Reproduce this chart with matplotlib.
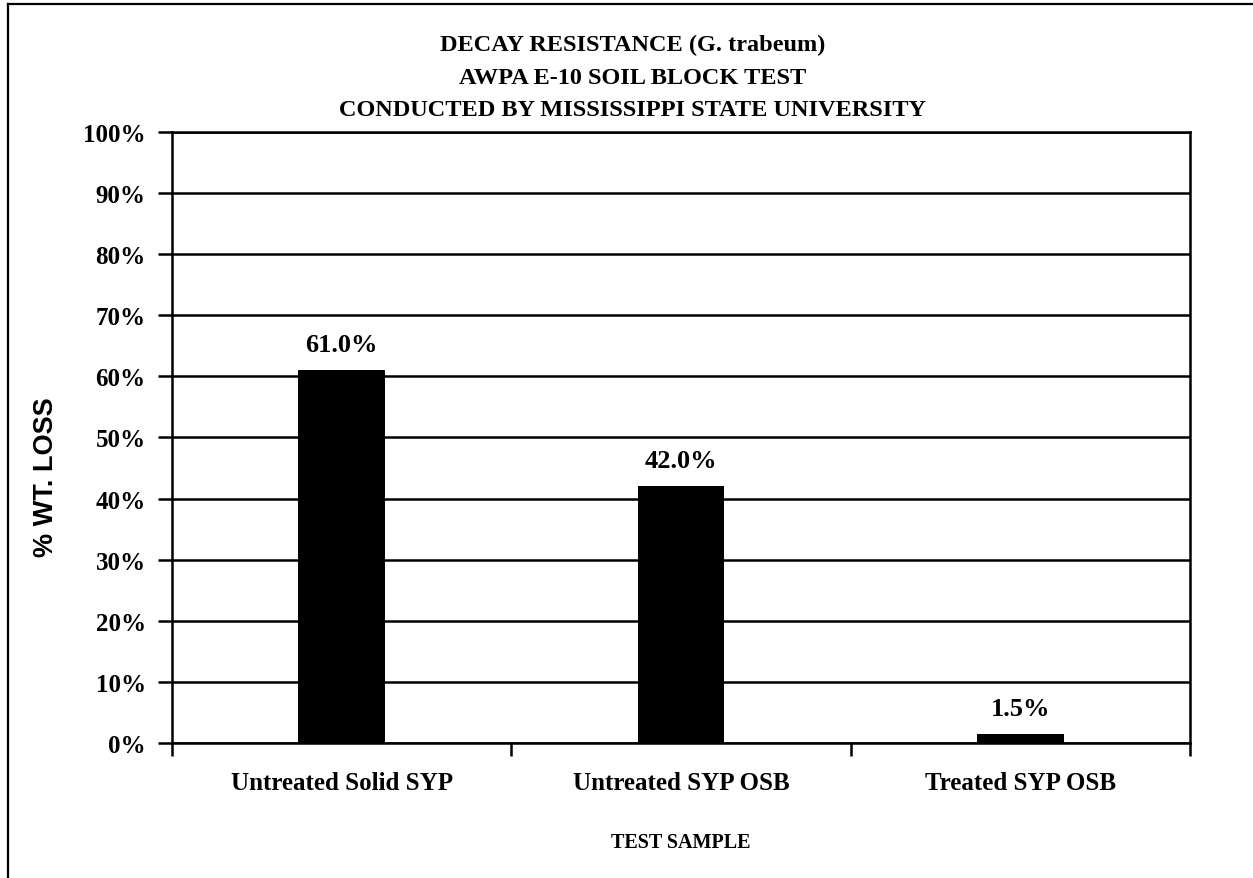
import matplotlib
matplotlib.use('Agg')
import matplotlib.pyplot as plt
import numpy as np

categories = ['Untreated Solid SYP', 'Untreated SYP OSB', 'Treated SYP OSB']
wt_loss = [61.0, 42.0, 1.5]
bar_labels = ['61.0%', '42.0%', '1.5%']
yticks = list(range(0, 101, 10))
title_lines = ['DECAY RESISTANCE (G. trabeum)',
               'AWPA E-10 SOIL BLOCK TEST',
               'CONDUCTED BY MISSISSIPPI STATE UNIVERSITY']

serif = 'Liberation Serif'
sans = 'Liberation Sans'

fig = plt.figure(figsize=(12.53, 8.79), dpi=100)
ax = fig.add_axes((0.1373, 0.1536, 0.8124, 0.6951))

x = np.arange(len(categories))
ax.bar(x, wt_loss, width=0.255, color='black', zorder=3)

ax.set_xlim(-0.5, len(categories) - 0.5)
ax.set_ylim(0, 100)
ax.set_yticks(yticks)
ax.set_yticklabels(['%d%%' % v for v in yticks], fontfamily=serif,
                   fontweight='bold', fontsize=18)
ax.yaxis.grid(True, color='black', linewidth=1.8, zorder=1)

# category boundary ticks below the x axis, labels in between
ax.set_xticks(np.arange(len(categories) + 1) - 0.5)
ax.set_xticklabels([])
ax.set_xticks(x, minor=True)
ax.set_xticklabels(categories, minor=True, fontfamily=serif,
                   fontweight='bold', fontsize=18)
ax.tick_params(axis='x', which='minor', length=0, pad=20)
ax.tick_params(axis='x', which='major', length=9, width=1.8, direction='out')
ax.tick_params(axis='y', length=10, width=1.8, direction='out', pad=9)

for s in ax.spines.values():
    s.set_linewidth(1.8)
    s.set_color('black')

for xi, v, lab in zip(x, wt_loss, bar_labels):
    ax.annotate(lab, (xi, v), xytext=(0, 10), textcoords='offset points',
                ha='center', va='bottom', fontfamily=serif,
                fontweight='bold', fontsize=19)

for i, line in enumerate(title_lines):
    fig.text(0.505, 1 - (45 + i * 33) / 879, line, ha='center', va='center',
             fontfamily=serif, fontweight='bold', fontsize=17.5)

fig.text(0.037, 1 - 477 / 879, '% WT. LOSS', rotation=90, ha='center',
         va='center', fontfamily=sans, fontweight='bold', fontsize=19.5)
fig.text(0.543, 1 - 843 / 879, 'TEST SAMPLE', ha='center', va='center',
         fontfamily=serif, fontweight='bold', fontsize=14.5)

# outer frame (top and left edges)
fig.add_artist(plt.Line2D([8 / 1253, 8 / 1253], [0, 1 - 5 / 879],
                          transform=fig.transFigure, color='black', lw=1.6))
fig.add_artist(plt.Line2D([8 / 1253, 1], [1 - 5 / 879, 1 - 5 / 879],
                          transform=fig.transFigure, color='black', lw=1.6))

fig.savefig('out.png', dpi=100)
